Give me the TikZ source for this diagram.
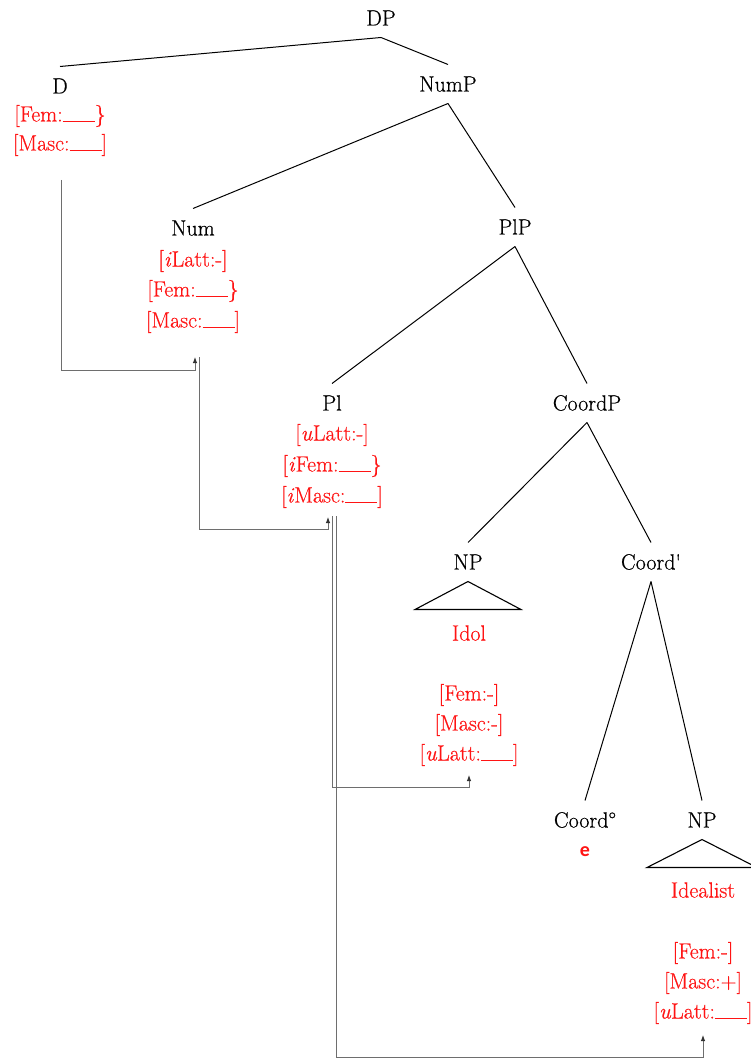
\documentclass[tikz,border=0pt]{standalone}
\usepackage{fontspec}
\setmainfont{Latin Modern Roman}[FakeBold=0.5]
\newfontfamily\efont{Carlito}
\usetikzlibrary{arrows.meta}
\definecolor{featred}{RGB}{255,20,20}
\definecolor{linkgray}{RGB}{110,110,110}
\newcommand{\blank}{\rule[-0.6pt]{32pt}{1pt}}
\begin{document}
\begin{tikzpicture}[x=1pt,y=-1pt,
  cat/.style={font=\fontsize{22}{26}\selectfont, text height=15pt, text depth=0pt, inner sep=0pt, outer xsep=0pt, outer ysep=12pt},
  feat/.style={font=\fontsize{22}{26}\selectfont, text=featred, inner sep=0pt},
  edge/.style={line width=1pt, black},
  link/.style={line width=0.9pt, linkgray},
  arr/.style={link, -{Latex[length=6pt,width=4.5pt,color=black!80]}},
  tri/.style={line width=1.1pt, black}]
\useasboundingbox (0,0) rectangle (750,1059);
% category labels
\node[cat] (dp) at (381,18) {DP};
\node[cat] (d) at (60,86) {D};
\node[cat] (nump) at (448,84) {NumP};
\node[cat] (num) at (193,228) {Num};
\node[cat] (plp) at (515,227) {PlP};
\node[cat] (pl) at (332,403) {Pl};
\node[cat] (coordp) at (587,403) {CoordP};
\node[cat] (npa) at (468,562) {NP};
\node[cat] (cbar) at (651,562) {Coord\textquotesingle};
\node[cat] (chead) at (585,820) {Coord°};
\node[cat] (npb) at (702,820) {NP};
% features
\node[feat] (dfem) at (60,116) {[Fem:\blank\}};
\node[feat] (dmasc) at (60,145) {[Masc:\blank]};
\node[feat] (numlatt) at (193,261) {[\textit{i}Latt:-]};
\node[feat] (numfem) at (193,291) {[Fem:\blank\}};
\node[feat] (nummasc) at (193,322) {[Masc:\blank]};
\node[feat] (pllatt) at (332,435) {[\textit{u}Latt:-]};
\node[feat] (plfem) at (332,466) {[\textit{i}Fem:\blank\}};
\node[feat] (plmasc) at (332,497) {[\textit{i}Masc:\blank]};
\node[feat] (idol) at (469,633) {Idol};
\node[feat] (npafem) at (469,695) {[Fem:-]};
\node[feat] (npamasc) at (469,725) {[Masc:-]};
\node[feat] (npalatt) at (469,755) {[\textit{u}Latt:\blank]};
\node[feat, font=\efont\bfseries\fontsize{20}{24}\selectfont] (e) at (585,852) {e};
\node[feat] (idealist) at (703,890) {Idealist};
\node[feat] (npbfem) at (703,953) {[Fem:-]};
\node[feat] (npbmasc) at (703,983) {[Masc:+]};
\node[feat] (npblatt) at (703,1013) {[\textit{u}Latt:\blank]};
% tree edges
\draw[edge] (dp.south) -- (d.north);
\draw[edge] (dp.south) -- (nump.north);
\draw[edge] (nump.south) -- (num.north);
\draw[edge] (nump.south) -- (plp.north);
\draw[edge] (plp.south) -- (pl.north);
\draw[edge] (plp.south) -- (coordp.north);
\draw[edge] (coordp.south) -- (npa.north);
\draw[edge] (coordp.south) -- (cbar.north);
\draw[edge] (cbar.south) -- (chead.north);
\draw[edge] (cbar.south) -- (npb.north);
% triangles
\draw[tri] (npa.south) -- ++(-53,28) -- ++(106,0) -- cycle;
\draw[tri] (npb.south) -- ++(-55,28) -- ++(110,0) -- cycle;
% agreement links
\coordinate (l1a) at (61,180);
\coordinate (l1b) at (195,370);
\coordinate (l1c) at (195,357);
\draw[arr] (l1a) |- (l1b) -- (l1c);
\coordinate (l2a) at (199,357);
\coordinate (l2b) at (328,529);
\coordinate (l2c) at (328,517);
\draw[arr] (l2a) |- (l2b) -- (l2c);
\coordinate (l3a) at (332,516);
\coordinate (l3b) at (469,787);
\coordinate (l3c) at (469,775);
\draw[arr] (l3a) |- (l3b) -- (l3c);
\coordinate (l4a) at (336,516);
\coordinate (l4b) at (703,1057);
\coordinate (l4c) at (703,1035);
\draw[arr] (l4a) |- (l4b) -- (l4c);
\end{tikzpicture}
\end{document}
